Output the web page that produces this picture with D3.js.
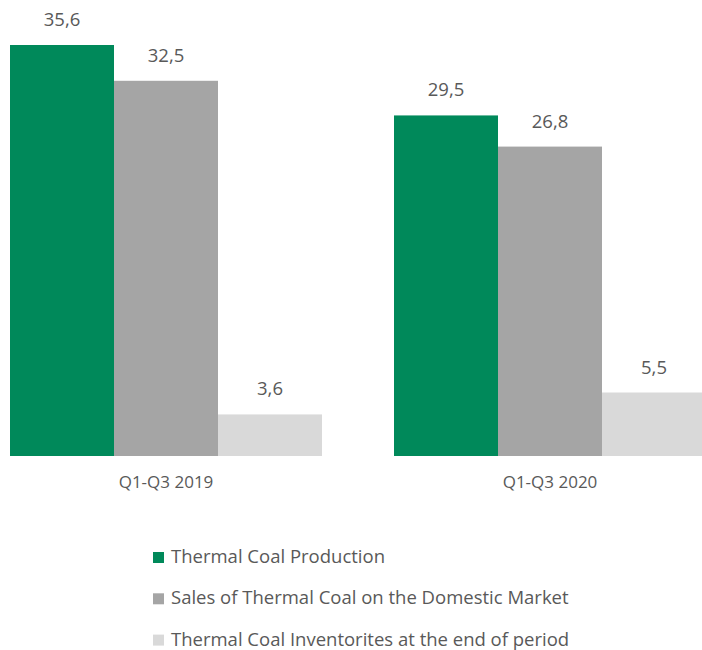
<!DOCTYPE html>
<html>
<head>
<meta charset="utf-8">
<script src="https://cdn.jsdelivr.net/npm/d3@7"></script>
<style>
  html, body { margin: 0; padding: 0; background: #fff; }
  svg { display: block; font-family: "Open Sans", "Noto Sans", sans-serif; }
</style>
</head>
<body>
<svg id="chart" width="702" height="650"></svg>
<script>
// Periods and series
const categories = ["Q1-Q3 2019", "Q1-Q3 2020"];
const seriesNames = [
  "Thermal Coal Production",
  "Sales of Thermal Coal on the Domestic Market",
  "Thermal Coal Inventorites at the end of period"
];
const production = [35.6, 29.5];
const sales = [32.5, 26.8];
const inventories = [3.6, 5.5];
const seriesColors = ["#00895A", "#A5A5A5", "#D9D9D9"];

const seriesValues = [production, sales, inventories];
const rows = categories.map((c, i) => ({
  category: c,
  values: seriesNames.map((s, j) => ({ series: s, value: seriesValues[j][i] }))
}));

const svg = d3.select("#chart");
const textColor = "#595959";
const baseline = 456;

const x0 = d3.scaleBand()
  .domain(categories)
  .range([-26, 742])
  .paddingInner(0.1875)
  .paddingOuter(0.09375);

const x1 = d3.scaleBand()
  .domain(seriesNames)
  .range([0, x0.bandwidth()]);

const y = d3.scaleLinear()
  .domain([0, 35.6])
  .range([baseline, 45]);

const color = d3.scaleOrdinal().domain(seriesNames).range(seriesColors);

const fmt = v => d3.format(".1f")(v).replace(".", ",");

const groups = svg.append("g")
  .selectAll("g")
  .data(rows)
  .join("g")
  .attr("transform", d => `translate(${x0(d.category)},0)`);

groups.selectAll("rect")
  .data(d => d.values)
  .join("rect")
  .attr("x", d => x1(d.series))
  .attr("width", x1.bandwidth())
  .attr("y", d => y(d.value))
  .attr("height", d => baseline - y(d.value))
  .attr("fill", d => color(d.series));

groups.selectAll("text.value")
  .data(d => d.values)
  .join("text")
  .attr("class", "value")
  .attr("x", d => x1(d.series) + x1.bandwidth() / 2)
  .attr("y", d => y(d.value) - 19)
  .attr("text-anchor", "middle")
  .attr("fill", textColor)
  .attr("font-size", 18.5)
  .text(d => fmt(d.value));

// Category axis (labels only)
const xAxis = d3.axisBottom(x0).tickSize(0).tickPadding(0);
const axisG = svg.append("g")
  .attr("transform", `translate(0,${baseline})`)
  .call(xAxis);
axisG.select(".domain").remove();
axisG.selectAll("text")
  .attr("dy", null)
  .attr("y", 32)
  .attr("fill", textColor)
  .attr("font-size", 17)
  .attr("font-family", "Open Sans, Noto Sans, sans-serif");

// Legend
const legend = svg.append("g")
  .selectAll("g")
  .data(seriesNames)
  .join("g")
  .attr("transform", (d, i) => `translate(153,${563 + i * 41.3})`);

legend.append("rect")
  .attr("x", 0)
  .attr("y", -11)
  .attr("width", 11)
  .attr("height", 11)
  .attr("fill", d => color(d));

legend.append("text")
  .attr("x", 18)
  .attr("y", 0)
  .attr("fill", textColor)
  .attr("font-size", 18.5)
  .text(d => d);
</script>
</body>
</html>
